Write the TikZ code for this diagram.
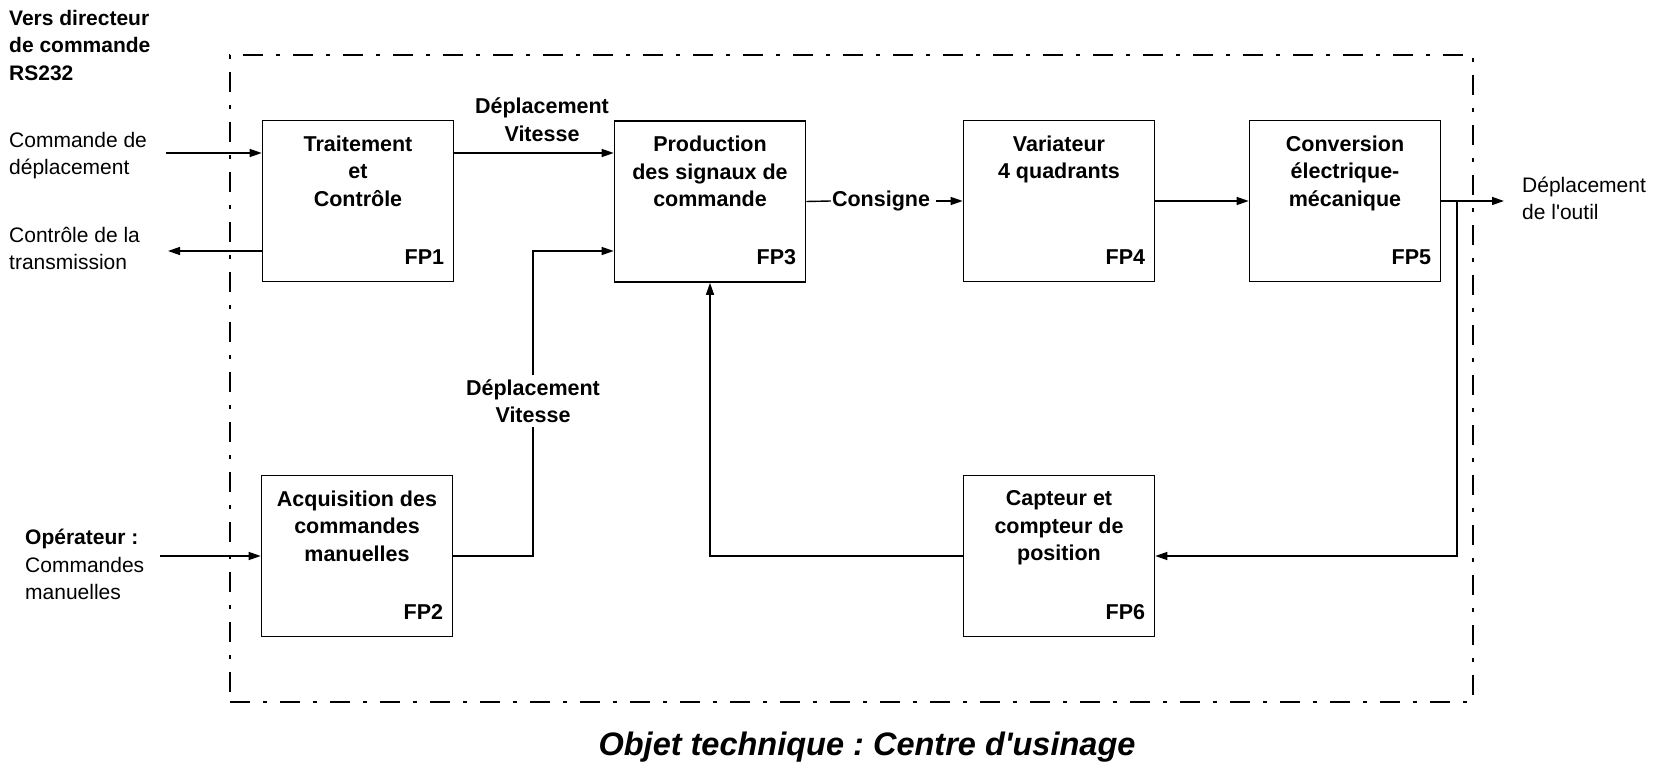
\documentclass[tikz,border=0pt]{standalone}
\usepackage{fontspec}
\setmainfont{Liberation Sans}[Ligatures=TeXOff]
\usetikzlibrary{arrows.meta,calc}
\frenchspacing
\begin{document}
\begin{tikzpicture}[x=1pt,y=-1pt,
  box/.style={draw,line width=1.6pt,minimum width=191pt,minimum height=161pt,inner sep=0pt},
  ttl/.style={anchor=north,align=center,inner sep=0pt,font=\fontsize{21.5}{27.5}\selectfont\bfseries},
  fplab/.style={anchor=base east,inner sep=0pt,font=\fontsize{21.5}{27.5}\selectfont\bfseries},
  lbl/.style={anchor=north west,inner sep=0pt,align=left,font=\fontsize{21}{27}\selectfont},
  blbl/.style={inner sep=0pt,align=center,font=\fontsize{21.5}{27.5}\selectfont\bfseries},
  frame/.style={draw,line width=1.6pt,dash pattern=on 20pt off 13pt on 4pt off 13pt,minimum width=1243pt,minimum height=647pt,inner sep=0pt},
  con/.style={line width=1.4pt},
  arr/.style={con,-{Triangle[length=12pt,width=8pt]}},
]
\useasboundingbox (0,0) rectangle (1657,767);
\fill[white] (0,0) rectangle (1657,767);

% frame
\node[frame] (frame) at (851.5,378.5) {};

% boxes
\node[box] (fp1) at (358,201) {};
\node[box] (fp2) at (357,556) {};
\node[box] (fp3) at (710,201.5) {};
\node[box] (fp4) at (1059,201) {};
\node[box] (fp5) at (1345,201) {};
\node[box] (fp6) at (1059,556) {};

% box titles
\node[ttl] (t1) at ($(fp1.north)+(0,16)$) {Traitement\\et\\Contrôle};
\node[ttl] (t2) at ($(fp2.north)+(0,16)$) {Acquisition des\\commandes\\manuelles};
\node[ttl] (t3) at ($(fp3.north)+(0,16)$) {Production\\des signaux de\\commande};
\node[ttl] (t4) at ($(fp4.north)+(0,16)$) {Variateur\\4 quadrants};
\node[ttl] (t5) at ($(fp5.north)+(0,16)$) {Conversion\\électrique-\\mécanique};
\node[ttl] (t6) at ($(fp6.north)+(0,16)$) {Capteur et\\compteur de\\position};

% FP labels
\node[fplab] (n1) at ($(fp1.south east)+(-10,-18)$) {FP1};
\node[fplab] (n2) at ($(fp2.south east)+(-10,-18)$) {FP2};
\node[fplab] (n3) at ($(fp3.south east)+(-10,-18)$) {FP3};
\node[fplab] (n4) at ($(fp4.south east)+(-10,-18)$) {FP4};
\node[fplab] (n5) at ($(fp5.south east)+(-10,-18)$) {FP5};
\node[fplab] (n6) at ($(fp6.south east)+(-10,-18)$) {FP6};

% outside labels
\node[lbl,font=\fontsize{21}{27.5}\selectfont\bfseries] (vers) at (9,10) {Vers directeur\\de commande\\RS232};
\node[lbl] (cmd) at (9,132) {Commande de\\déplacement};
\node[lbl] (ctl) at (9,227) {Contrôle de la\\transmission};
\node[lbl,font=\fontsize{21}{27.5}\selectfont] (op) at (25,529) {\textbf{Opérateur :}\\Commandes\\manuelles};
\node[lbl] (outil) at (1522,177) {Déplacement\\de l'outil};

% coordinates
\coordinate (in1) at (166,153);
\coordinate (out1) at (168,251);
\coordinate (in2) at (160,556);
\coordinate (j2) at (533,251);
\coordinate (br) at (1457,201);
\coordinate (outT) at (1504,201);

% connectors
\draw[arr] (in1) -- (in1 -| fp1.west);
\draw[arr] (out1 -| fp1.west) -- (out1);
\draw[arr] (fp1.east |- in1) -- (fp3.west |- in1);
\draw[arr] (fp2.east) -| (j2) -- (j2 -| fp3.west);
\draw[arr] (in2) -- (fp2.west);

\node[blbl] (dv1) at (542,119.5) {Déplacement\\Vitesse};
\node[blbl,fill=white,inner sep=4pt] (dv2) at (533,401) {Déplacement\\Vitesse};

\node[blbl,inner sep=0pt] (cons) at (881,201) {Consigne};
\draw[con] (fp3.east) -- ($(cons.west)+(-1,0)$);
\draw[arr] ($(cons.east)+(6,0)$) -- (fp4.west);

\draw[arr] (fp4.east) -- (fp5.west);
\draw[arr] (fp5.east) -- (outT);
\draw[arr] (br) |- (fp6.east);
\draw[arr] (fp6.west) -| (fp3.south);

% title
\node[inner sep=0pt,anchor=base,font=\fontsize{32.5}{32.5}\selectfont\bfseries\itshape] (title) at (867,755) {Objet technique : Centre d'usinage};
\end{tikzpicture}
\end{document}
